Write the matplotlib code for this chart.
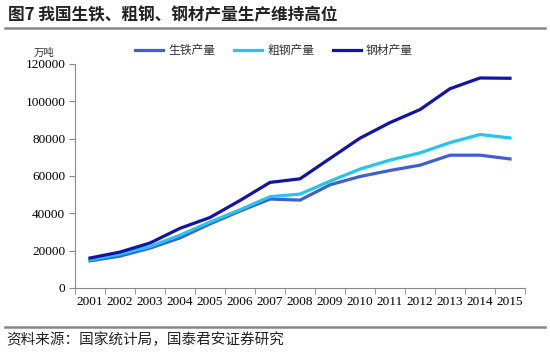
import matplotlib
matplotlib.use("Agg")
import matplotlib.pyplot as plt
from matplotlib.lines import Line2D
import numpy as np

plt.rcParams['font.family'] = ['Noto Sans CJK SC', 'DejaVu Sans']

years = ["2001", "2002", "2003", "2004", "2005", "2006", "2007", "2008",
         "2009", "2010", "2011", "2012", "2013", "2014", "2015"]
pig_iron = [14541, 17085, 21367, 26831, 34375, 41245, 47652, 47067,
            55283, 59733, 62969, 65791, 71150, 71160, 69141]
crude_steel = [15163, 18237, 22234, 28291, 35324, 41915, 48929, 50306,
               57218, 63723, 68528, 72388, 77904, 82231, 80383]
steel_products = [16068, 19252, 24108, 31976, 37771, 46893, 56561, 58488,
                  69405, 80277, 88620, 95578, 106762, 112513, 112350]
series_names = ["生铁产量", "粗钢产量", "钢材产量"]
colors = ["#3F5FD2", "#22C6F0", "#1212AE"]
yticks = [0, 20000, 40000, 60000, 80000, 100000, 120000]

fig = plt.figure(figsize=(5.5, 3.52), dpi=100)
ax = fig.add_axes([75/550, 1-288/352, 450/550, 224/352])

x = np.arange(len(years))
for vals, c, name in zip([pig_iron, crude_steel, steel_products], colors, series_names):
    ax.plot(x, vals, color=c, lw=2.3, label=name, solid_joinstyle='miter')

ax.set_xlim(-0.5, len(years) - 0.5)
ax.set_ylim(0, 120000)
ax.set_yticks(yticks)
ax.set_yticklabels([str(v) for v in yticks], family='Liberation Serif', fontsize=9.5)
ax.set_xticks(x)
ax.set_xticklabels(years, family='Liberation Serif', fontsize=9.5)
ax.set_xticks(np.arange(-0.5, len(years), 1), minor=True)
ax.tick_params(axis='x', which='major', length=0, pad=6)
ax.tick_params(axis='x', which='minor', length=4, color='#888888', direction='out')
ax.tick_params(axis='y', length=4, color='#888888', direction='out', pad=3)
for s in ['top', 'right']:
    ax.spines[s].set_visible(False)
for s in ['left', 'bottom']:
    ax.spines[s].set_color('#888888')
    ax.spines[s].set_linewidth(0.8)

leg = ax.legend(loc='lower left', bbox_to_anchor=((128-75)/450, 1.0), ncol=3,
                frameon=False, fontsize=8.5, handlelength=2.4, columnspacing=1.6,
                handletextpad=0.4, borderaxespad=0.2)
for t in leg.get_texts():
    t.set_color('#333333')

fig.text(34/550, 1-53/352, "万吨", fontsize=7.5, va='center', ha='left', color='#333333')

fig.text(8/550, 1-15/352, "图7 我国生铁、粗钢、钢材产量生产维持高位", fontsize=12,
         fontweight='bold', va='center', ha='left', color='#222222')
fig.add_artist(Line2D([5/550, 545/550], [1-28/352, 1-28/352], color='#888888', lw=1.8))
fig.add_artist(Line2D([5/550, 545/550], [1-327/352, 1-327/352], color='#888888', lw=1.8))
fig.text(6/550, 1-340/352, "资料来源：国家统计局，国泰君安证券研究", fontsize=10.5,
         va='center', ha='left', color='#222222')

fig.savefig("out.png", dpi=100)
